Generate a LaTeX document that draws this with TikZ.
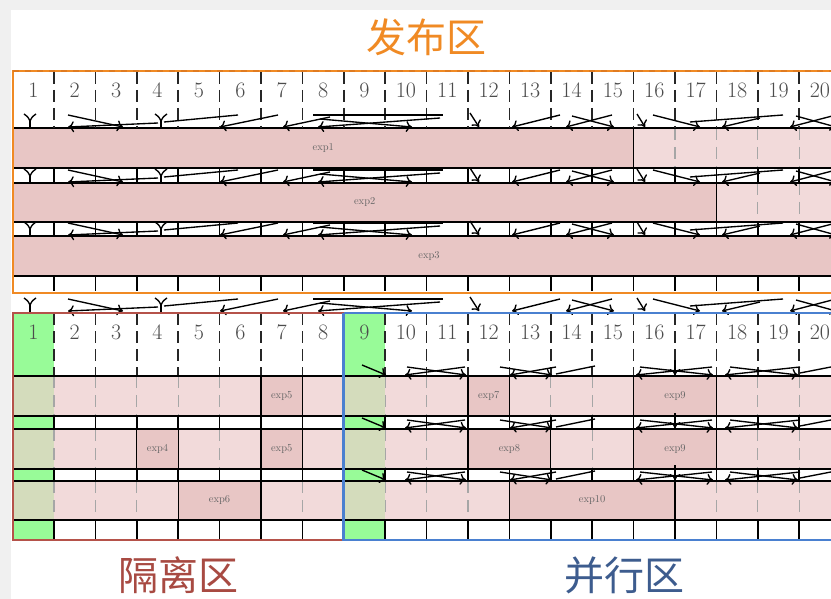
\documentclass[tikz,border=0pt]{standalone}
\usepackage{fontspec}
\newfontfamily\cjkfont{Noto Sans CJK SC}
\usetikzlibrary{arrows.meta}
\definecolor{bggray}{HTML}{F0F0F0}
\definecolor{expdark}{HTML}{E8C6C5}
\definecolor{explight}{HTML}{F2DADA}
\definecolor{olivez}{HTML}{D4DCBC}
\definecolor{grn}{HTML}{98FB98}
\definecolor{orng}{HTML}{F08A24}
\definecolor{orngdk}{HTML}{E07B20}
\definecolor{redz}{HTML}{B5524A}
\definecolor{bluez}{HTML}{4A80D0}
\definecolor{redtext}{HTML}{A84A42}
\definecolor{bluetext}{HTML}{3D5C8E}
\tikzset{
  arr/.style={-{To[length=6pt,width=11pt]}, line width=1.35pt},
  plainline/.style={line width=1.35pt},
  hdash/.style={black!85, line width=1.6pt, dash pattern=on 12pt off 6pt},
  gdash/.style={black!35, line width=1.2pt, dash pattern=on 12pt off 7pt},
  tickline/.style={black, line width=1.6pt},
  hline/.style={black, line width=1.5pt},
  num/.style={text=black!70, font=\fontsize{22}{22}\selectfont, inner sep=0pt},
  explab/.style={text=black!60, font=\fontsize{10.5}{10.5}\selectfont, inner sep=0pt},
  zonelab/.style={font=\cjkfont\fontsize{40}{40}\selectfont, inner sep=0pt},
  expfill/.style={draw=black, line width=1.3pt, fill=expdark},
}
\newcommand\yshape[2]{%
  \draw[plainline] (#1,#2) -- (#1,#2-7);
  \draw[plainline] (#1-6,#2-14) .. controls (#1-2,#2-11) .. (#1,#2-7) .. controls (#1+2,#2-11) .. (#1+6,#2-14);
}
\newcommand\toparrows[1]{%
  \yshape{30}{#1}
  \draw[arr] (68,#1-13) -- (123,#1-1);
  \draw[arr] (158,#1-5) -- (68,#1-1);
  \yshape{161}{#1}
  \draw[plainline] (164,#1-6) -- (238,#1-13);
  \draw[arr] (278,#1-13) -- (220,#1-1);
  \draw[arr] (330,#1-11) -- (283,#1-1);
  \draw[plainline] (313,#1-13) -- (443,#1-13);
  \draw[arr] (440,#1-10) -- (318,#1-1);
  \draw[arr] (320,#1-9) -- (412,#1-1);
  \draw[arr] (470,#1-15) -- (479,#1-1);
  \draw[arr] (560,#1-13) -- (512,#1-1);
  \draw[arr] (612,#1-13) -- (566,#1-1);
  \draw[arr] (572,#1-12) -- (614,#1-1);
  \draw[arr] (637,#1-14) -- (645,#1-1);
  \draw[arr] (653,#1-13) -- (700,#1-1);
  \draw[plainline] (690,#1-6) -- (783,#1-13);
  \draw[arr] (760,#1-10) -- (722,#1-1);
  \draw[arr] (836,#1-13) -- (790,#1-1);
  \draw[arr] (796,#1-12) -- (836,#1-1);
}
\newcommand\pararrows[1]{%
  \draw[arr] (362,#1-11) -- (386,#1-1);
  \draw[arr] (465,#1-9) -- (405,#1-1);
  \draw[arr] (407,#1-9) -- (466,#1-1);
  \draw[arr] (556,#1-9) -- (510,#1-1);
  \draw[arr] (500,#1-9) -- (552,#1-1);
  \draw[plainline] (556,#1-2) -- (595,#1-10);
  \draw[arr] (712,#1-9) -- (636,#1-1);
  \draw[arr] (640,#1-9) -- (713,#1-1);
  \draw[arr] (675,#1-16) -- (675,#1-1);
  \draw[arr] (800,#1-9) -- (725,#1-1);
  \draw[arr] (730,#1-9) -- (798,#1-1);
  \draw[plainline] (800,#1-3) -- (836,#1-10);
}
\newcommand\expbox[6]{%
  \draw[expfill] (#1,#2) rectangle (#3,#4);
  \node[explab] (#6) at ({(#1+#3)/2},{(#2+#4)/2}) {#5};
}
\begin{document}
\begin{tikzpicture}[x=1pt,y=-1pt]
\useasboundingbox (0,0) rectangle (831,599);
\clip (0,0) rectangle (831,599);
\fill[bggray] (0,0) rectangle (831,599);
\fill[white] (11,10) rectangle (831,599);

% ---------- top region (发布区) ----------
\fill[explight] (13,128) rectangle (845,168);
\fill[explight] (13,183) rectangle (845,222);
\foreach \k in {16,...,19} {\pgfmathsetmacro\ex{12.6+41.4*\k}\draw[gdash] (\ex,128) -- (\ex,168);}
\foreach \k in {18,19} {\pgfmathsetmacro\ex{12.6+41.4*\k}\draw[gdash] (\ex,183) -- (\ex,222);}
\expbox{13}{128}{633.6}{168}{exp1}{e1}
\expbox{13}{183}{716.4}{222}{exp2}{e2}
\expbox{13}{236}{845}{276}{exp3}{e3}
\foreach \yy in {128,168,183,222,236,276} {\draw[hline] (13,\yy) -- (845,\yy);}
\foreach \k in {1,...,19} {
  \pgfmathsetmacro\ex{12.6+41.4*\k}
  \draw[hdash] (\ex,72) -- (\ex,128);
  \draw[tickline] (\ex,168) -- (\ex,183);
  \draw[tickline] (\ex,222) -- (\ex,236);
  \draw[tickline] (\ex,276) -- (\ex,291);
}
\foreach \k in {1,...,20} {\node[num] (ta\k) at (12.6+41.4*\k-20.7,90) {\k};}

% ---------- lower region ----------
\fill[grn] (13,313) rectangle (54,376);
\fill[grn] (343.8,313) rectangle (385.2,376);
\foreach \ya/\yb in {376/416,429/469,481/520} {
  \fill[explight] (13,\ya) rectangle (845,\yb);
  \fill[olivez] (13,\ya) rectangle (54,\yb);
  \fill[olivez] (343.8,\ya) rectangle (385.2,\yb);
}
\foreach \ya/\yb in {416/429,469/481,520/540} {
  \fill[grn] (13,\ya) rectangle (54,\yb);
  \fill[grn] (343.8,\ya) rectangle (385.2,\yb);
}
\foreach \k in {1,2,3,4,5,6,7,9,10,11,12,13,14,15,16,17,18,19} {
  \pgfmathsetmacro\ex{12.6+41.4*\k}
  \draw[hdash] (\ex,313) -- (\ex,376);
  \draw[gdash] (\ex,376) -- (\ex,416);
  \draw[gdash] (\ex,429) -- (\ex,469);
  \draw[gdash] (\ex,481) -- (\ex,520);
}
\foreach \k in {1,...,19} {
  \pgfmathsetmacro\ex{12.6+41.4*\k}
  \draw[tickline] (\ex,416) -- (\ex,429);
  \draw[tickline] (\ex,469) -- (\ex,481);
  \draw[tickline] (\ex,520) -- (\ex,540);
}
\expbox{261}{376}{302.4}{416}{exp5}{e5a}
\expbox{468}{376}{509.4}{416}{exp7}{e7}
\expbox{633.6}{376}{716.4}{416}{exp9}{e9a}
\expbox{136.8}{429}{178.2}{469}{exp4}{e4}
\expbox{261}{429}{302.4}{469}{exp5}{e5b}
\expbox{468}{429}{550.8}{469}{exp8}{e8}
\expbox{633.6}{429}{716.4}{469}{exp9}{e9b}
\expbox{178.2}{481}{261}{520}{exp6}{e6}
\expbox{509.4}{481}{675}{520}{exp10}{e10}
\foreach \yy in {376,416,429,469,481,520} {\draw[hline] (13,\yy) -- (845,\yy);}
\foreach \k in {1,...,20} {\node[num] (tb\k) at (12.6+41.4*\k-20.7,332) {\k};}

% ---------- arrows ----------
\toparrows{128}
\toparrows{183}
\toparrows{236}
\toparrows{312}
\pararrows{376}
\pararrows{429}
\pararrows{481}

% ---------- borders ----------
\draw[orng, line width=2.8pt] (845,71) -- (13,71) -- (13,293) -- (845,293);
\draw[orngdk, line width=2.8pt, dash pattern=on 6pt off 6pt] (13,71) -- (845,71);
\draw[redz, line width=2.8pt] (13,313) rectangle (343.8,540);
\draw[bluez, line width=2.8pt] (343.8,313) -- (845,313) (343.8,313) -- (343.8,540) -- (845,540);

% ---------- zone labels ----------
\node[zonelab, text=orng] (zpub) at (426,37) {发布区};
\node[zonelab, text=redtext] (ziso) at (178,575) {隔离区};
\node[zonelab, text=bluetext] (zpar) at (624,575) {并行区};
\end{tikzpicture}
\end{document}
